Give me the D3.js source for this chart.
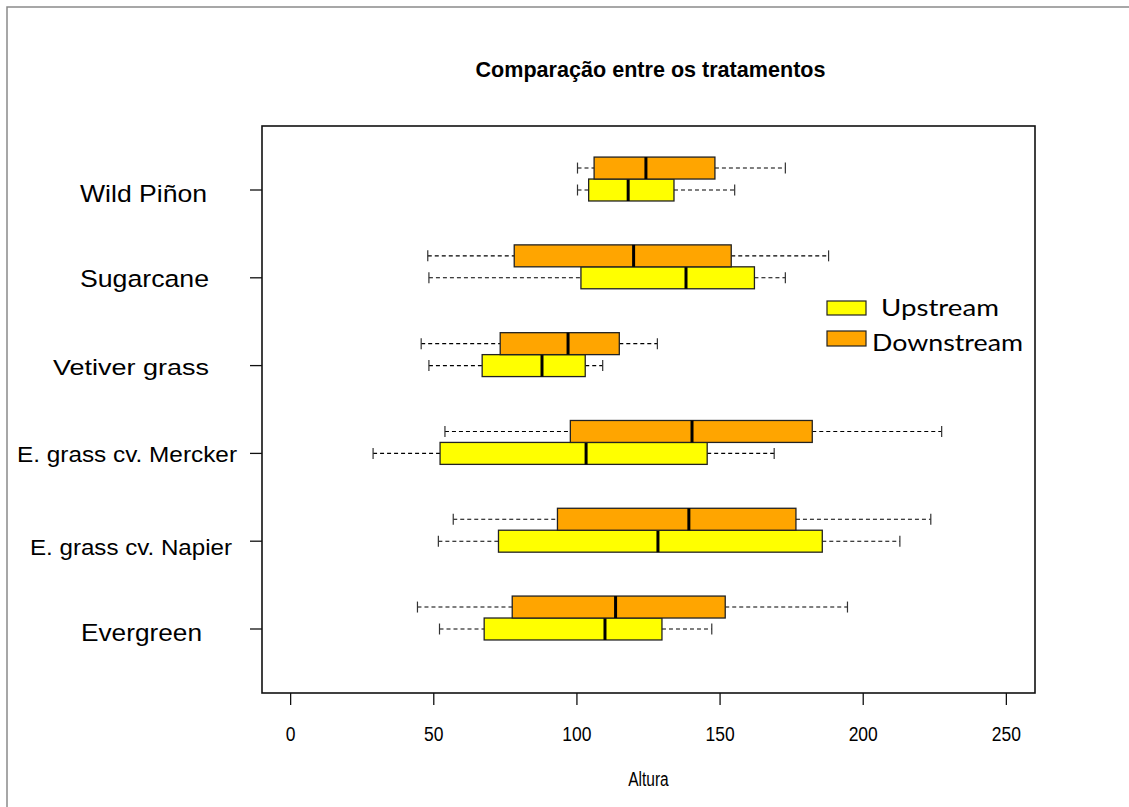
<!DOCTYPE html>
<html>
<head>
<meta charset="utf-8">
<script src="https://cdn.jsdelivr.net/npm/d3@7"></script>
<style>
  body { margin: 0; background: #fff; }
  svg { display: block; font-family: "Liberation Sans", Arial, sans-serif; }
</style>
</head>
<body>
<div id="chart"></div>
<script>
// Categories from bottom to top
const categories = ["Evergreen", "E. grass cv. Napier", "E. grass cv. Mercker", "Vetiver grass", "Sugarcane", "Wild Piñon"];

// Five-number summaries [min, q1, median, q3, max]
const upstream = [
  [52.0, 67.6, 109.8, 129.7, 147.1],
  [51.6, 72.6, 128.3, 185.7, 212.8],
  [28.8, 52.2, 103.2, 145.5, 168.9],
  [48.3, 66.9, 87.8, 102.9, 109.0],
  [48.3, 101.4, 138.1, 162.0, 172.8],
  [100.2, 104.1, 117.9, 133.9, 155.1]
];
const downstream = [
  [44.3, 77.4, 113.5, 151.8, 194.5],
  [56.8, 93.2, 139.1, 176.5, 223.6],
  [53.9, 97.7, 140.2, 182.2, 227.4],
  [45.6, 73.2, 96.9, 114.8, 128.1],
  [47.9, 78.1, 119.8, 153.9, 187.9],
  [100.2, 106.0, 124.1, 148.2, 172.8]
];

const seriesNames = ["Upstream", "Downstream"];
const seriesColors = ["#FFFF00", "#FFA500"];
const xTicks = [0, 50, 100, 150, 200, 250];

// Label placement (left x, baseline offset from tick, font size, text width)
const labelLayout = [
  { x: 81, dy: 12, size: 23, w: 121 },
  { x: 30, dy: 14, size: 22, w: 202 },
  { x: 17, dy: 9, size: 22, w: 220 },
  { x: 53, dy: 9, size: 22.5, w: 156 },
  { x: 80, dy: 9, size: 24.5, w: 129 },
  { x: 80, dy: 12, size: 24, w: 127 }
];

const width = 1129;
const height = 807;
const plot = { left: 262, right: 1035, top: 126, bottom: 693 };

const svg = d3.select("#chart").append("svg")
  .attr("width", width)
  .attr("height", height);

// Outer frame
svg.append("path")
  .attr("d", `M7,${height} V7 H${width}`)
  .attr("fill", "none")
  .attr("stroke", "#8a8a8a")
  .attr("stroke-width", 1.5);

const x = d3.scaleLinear().domain([-10, 260]).range([plot.left, plot.right]);
const y = d3.scaleLinear().domain([0.271, 6.729]).range([plot.bottom, plot.top]);

const boxH = y(0) - y(0.25);

// Title
svg.append("text")
  .attr("x", (plot.left + plot.right) / 2 + 2)
  .attr("y", 77)
  .attr("text-anchor", "middle")
  .attr("font-size", 21.5)
  .attr("font-weight", "bold")
  .attr("textLength", 350)
  .attr("lengthAdjust", "spacingAndGlyphs")
  .text("Comparação entre os tratamentos");

// Boxes
[upstream, downstream].forEach((series, s) => {
  const g = svg.append("g");
  series.forEach((d, i) => {
    const cy = y(i + 1 + s * 0.25);
    const [mn, q1, md, q3, mx] = d;
    // whiskers
    g.append("line")
      .attr("x1", x(mn)).attr("x2", x(q1))
      .attr("y1", cy).attr("y2", cy)
      .attr("stroke", "#000").attr("stroke-width", 1.1)
      .attr("stroke-dasharray", "4,3");
    g.append("line")
      .attr("x1", x(q3)).attr("x2", x(mx))
      .attr("y1", cy).attr("y2", cy)
      .attr("stroke", "#000").attr("stroke-width", 1.1)
      .attr("stroke-dasharray", "4,3");
    // staples
    [mn, mx].forEach(v => {
      g.append("line")
        .attr("x1", x(v)).attr("x2", x(v))
        .attr("y1", cy - boxH / 4).attr("y2", cy + boxH / 4)
        .attr("stroke", "#333").attr("stroke-width", 1.2);
    });
    // box
    g.append("rect")
      .attr("x", x(q1))
      .attr("y", cy - boxH / 2)
      .attr("width", x(q3) - x(q1))
      .attr("height", boxH)
      .attr("fill", seriesColors[s])
      .attr("stroke", "#222")
      .attr("stroke-width", 1.3);
    // median
    g.append("line")
      .attr("x1", x(md)).attr("x2", x(md))
      .attr("y1", cy - boxH / 2).attr("y2", cy + boxH / 2)
      .attr("stroke", "#000").attr("stroke-width", 3);
  });
});

// Plot frame
svg.append("rect")
  .attr("x", plot.left).attr("y", plot.top)
  .attr("width", plot.right - plot.left)
  .attr("height", plot.bottom - plot.top)
  .attr("fill", "none")
  .attr("stroke", "#111")
  .attr("stroke-width", 1.6);

// X axis
const xAxis = svg.append("g").attr("transform", `translate(0,${plot.bottom})`);
xAxis.selectAll("line").data(xTicks).enter().append("line")
  .attr("x1", d => x(d)).attr("x2", d => x(d))
  .attr("y1", 0).attr("y2", 12)
  .attr("stroke", "#111").attr("stroke-width", 1.3);
xAxis.selectAll("text").data(xTicks).enter().append("text")
  .attr("transform", d => `translate(${x(d)},48) scale(1,1.12)`)
  .attr("text-anchor", "middle")
  .attr("font-size", 17.5)
  .text(d => d);

svg.append("text")
  .attr("transform", `translate(${(plot.left + plot.right) / 2},786) scale(1,1.3)`)
  .attr("text-anchor", "middle")
  .attr("font-size", 15.5)
  .text("Altura");

// Y axis ticks and labels
categories.forEach((c, i) => {
  const cy = y(i + 1);
  svg.append("line")
    .attr("x1", plot.left - 12).attr("x2", plot.left)
    .attr("y1", cy).attr("y2", cy)
    .attr("stroke", "#111").attr("stroke-width", 1.3);
  const L = labelLayout[i];
  svg.append("text")
    .attr("x", L.x)
    .attr("y", cy + L.dy)
    .attr("font-size", L.size)
    .attr("textLength", L.w)
    .attr("lengthAdjust", "spacingAndGlyphs")
    .text(c);
});

// Legend
const legend = svg.append("g").attr("font-family", "Lato, 'Open Sans', sans-serif");
const legendText = [{ x: 881, w: 118 }, { x: 872, w: 151 }];
seriesNames.forEach((name, i) => {
  const top = 301 + i * 30;
  legend.append("rect")
    .attr("x", 827).attr("y", top)
    .attr("width", 39).attr("height", 14 + i)
    .attr("fill", seriesColors[i])
    .attr("stroke", "#222").attr("stroke-width", 1.2);
  legend.append("text")
    .attr("x", legendText[i].x)
    .attr("y", 316 + i * 35)
    .attr("font-size", 23)
    .attr("textLength", legendText[i].w)
    .attr("lengthAdjust", "spacingAndGlyphs")
    .text(name);
});
</script>
</body>
</html>
